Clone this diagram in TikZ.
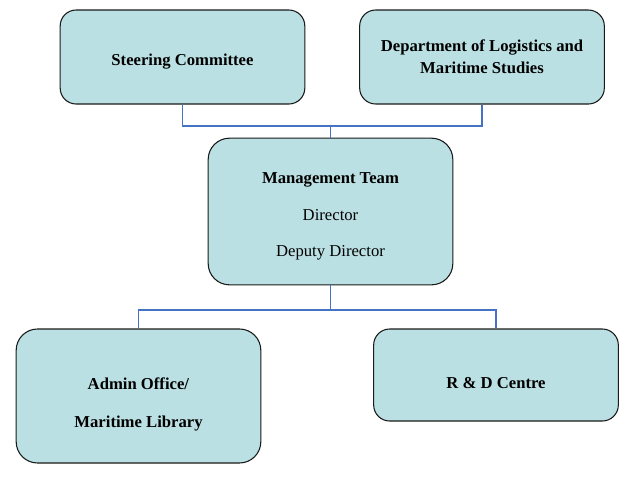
\documentclass[tikz,border=0pt]{standalone}
\usepackage{fontspec}
\setmainfont{Liberation Serif}
\usepackage{xcolor}
\usetikzlibrary{positioning,calc}
\definecolor{paleteal}{HTML}{BBE0E3}
\definecolor{linkblue}{HTML}{4472C4}
\definecolor{edge}{HTML}{1A1A1A}
\tikzset{
  unitbox/.style={
    rectangle, rounded corners=#1, draw=edge, fill=paleteal, line width=0.8pt,
    minimum width=183.5pt, inner sep=0pt
  },
  unitbox/.default=12pt,
  boxtext/.style={
    font=\fontsize{12.5}{16.5}\selectfont, align=center, inner sep=0pt
  },
  link/.style={
    line width=0.9pt, color=linkblue
  },
}

\begin{document}
\begin{tikzpicture}[x=0.75pt, y=-0.75pt]
  \useasboundingbox (0,0) rectangle (636,476);
  % boxes
  \node[unitbox, minimum height=70.5pt] at (182.5,57) (steer) {};
  \node[unitbox, minimum height=70.5pt] at (482,57) (dept) {};
  \node[unitbox=16pt, minimum height=110pt] at (330.5,211.5) (mgmt) {};
  \node[unitbox=16pt, minimum height=100.5pt] at (138.5,396) (admin) {};
  \node[unitbox, minimum height=69pt] at (496,375) (rnd) {};
  % texts
  \node[boxtext] at ([yshift=-3.75pt]steer.center) (steertext) {\textbf{Steering Committee}};
  \node[boxtext] at (dept.center) (depttext) {\textbf{Department of Logistics and}\\\textbf{Maritime Studies}};
  \node[boxtext] at ([yshift=-3.75pt]mgmt.center) (mgmttext) {\textbf{Management Team}\\[11pt]Director\\[11pt]Deputy Director};
  \node[boxtext] at ([yshift=-6pt]admin.center) (admintext) {\textbf{Admin Office/}\\[12pt]\textbf{Maritime Library}};
  \node[boxtext] at ([yshift=-6pt]rnd.center) (rndtext) {\textbf{R \& D Centre}};
  % connectors
  \coordinate (top) at (330.5,126);
  \coordinate (bot) at (330.5,310);
  \draw[link] (steer.south) |- (top) -| (dept.south);
  \draw[link] (top) -- (mgmt.north);
  \draw[link] (mgmt.south) -- (bot);
  \draw[link] (admin.north) |- (bot) -| (rnd.north);
\end{tikzpicture}
\end{document}
